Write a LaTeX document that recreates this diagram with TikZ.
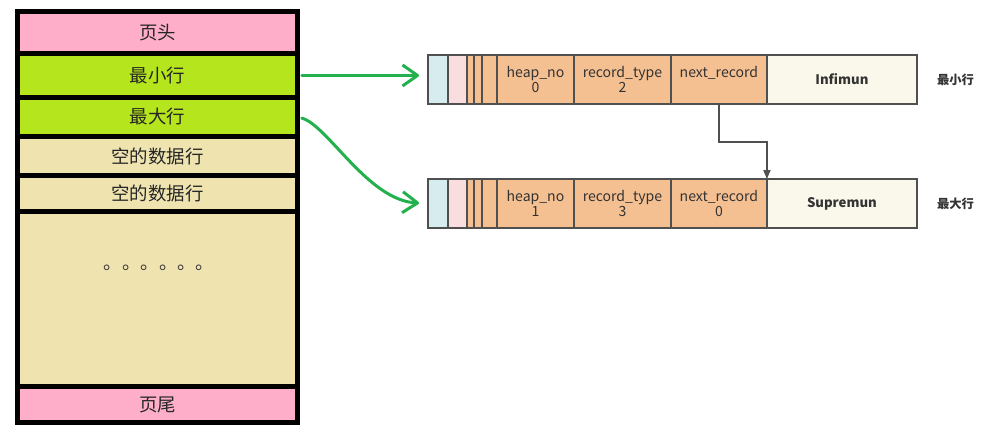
\documentclass[tikz,border=0pt]{standalone}
\usepackage{fontspec}
\setmainfont{Noto Sans CJK SC}
\usetikzlibrary{arrows.meta,positioning}
\definecolor{headpink}{RGB}{255,174,201}
\definecolor{rowgreen}{RGB}{181,230,29}
\definecolor{rowtan}{RGB}{239,228,176}
\definecolor{pengreen}{RGB}{34,177,76}
\definecolor{recblue}{RGB}{214,236,238}
\definecolor{recpink}{RGB}{250,221,222}
\definecolor{recorange}{RGB}{245,192,145}
\definecolor{reccream}{RGB}{250,248,234}
\definecolor{recline}{RGB}{80,80,80}

\begin{document}
\begin{tikzpicture}[
  x=0.02cm, y=-0.02cm,
  pagecell/.style={rectangle, draw=black, line width=0.1cm, outer sep=0pt,
    inner sep=0pt, minimum width=5.6cm, text=black!85,
    font=\fontsize{10.5}{12}\selectfont},
  reccell/.style={rectangle, draw=recline, line width=0.7pt, outer sep=0pt,
    inner sep=0pt, minimum height=0.98cm, fill=recorange, align=center,
    text=black!80, font=\fontsize{8}{8.5}\selectfont},
  sidelabel/.style={font=\fontsize{7}{8}\selectfont\bfseries, text=black!80},
  penarrow/.style={draw=pengreen, line width=0.06cm, line cap=round,
    -{Straight Barb[length=0.3cm,width=0.42cm,line join=round]},
    shorten <=0.09cm, shorten >=0.18cm},
  nextlink/.style={draw=recline, line width=0.7pt,
    -{Triangle[length=5pt,width=4pt]}},
]
  \useasboundingbox (0,0) rectangle (981,445);

  % page layout
  \node[pagecell, fill=headpink, minimum height=0.84cm, anchor=north] (head) at (157.5,11.5) {页头};
  \node[pagecell, fill=rowgreen, minimum height=0.88cm, below=0pt of head] (minrow) {最小行};
  \node[pagecell, fill=rowgreen, minimum height=0.78cm, below=0pt of minrow] (maxrow) {最大行};
  \node[pagecell, fill=rowtan, minimum height=0.78cm, below=0pt of maxrow] (empty1) {空的数据行};
  \node[pagecell, fill=rowtan, minimum height=0.72cm, below=0pt of empty1] (empty2) {空的数据行};
  \node[pagecell, fill=rowtan, minimum height=3.5cm, below=0pt of empty2] (free) {};
  \node[pagecell, fill=headpink, minimum height=0.73cm, below=0pt of free] (tail) {页尾};
  \node[font=\fontsize{10.5}{12}\selectfont, text=black!80] (dots) at (159,268) {。。。。。。};

  % infimum record
  \node[reccell, fill=recblue, minimum width=0.4cm, anchor=west] (ptr1) at (428,79.5) {};
  \node[reccell, fill=recpink, minimum width=0.38cm, right=0pt of ptr1] (pk1) {};
  \node[reccell, minimum width=0.14cm, right=0pt of pk1] (fa1) {};
  \node[reccell, minimum width=0.16cm, right=0pt of fa1] (fb1) {};
  \node[reccell, minimum width=0.3cm, right=0pt of fb1] (fc1) {};
  \node[reccell, minimum width=1.54cm, right=0pt of fc1] (heap1) {heap\_no\\0};
  \node[reccell, minimum width=1.94cm, right=0pt of heap1] (type1) {record\_type\\2};
  \node[reccell, minimum width=1.92cm, right=0pt of type1] (next1) {next\_record\\~};
  \node[reccell, fill=reccream, minimum width=3cm, right=0pt of next1,
    font=\fontsize{7.5}{9}\selectfont\bfseries] (inf) {Infimun};
  \node[sidelabel, right=0.28cm of inf] (minlab) {最小行};

  % supremum record
  \node[reccell, fill=recblue, minimum width=0.4cm, anchor=west] (ptr2) at (428,203.5) {};
  \node[reccell, fill=recpink, minimum width=0.38cm, right=0pt of ptr2] (pk2) {};
  \node[reccell, minimum width=0.14cm, right=0pt of pk2] (fa2) {};
  \node[reccell, minimum width=0.16cm, right=0pt of fa2] (fb2) {};
  \node[reccell, minimum width=0.3cm, right=0pt of fb2] (fc2) {};
  \node[reccell, minimum width=1.54cm, right=0pt of fc2] (heap2) {heap\_no\\1};
  \node[reccell, minimum width=1.94cm, right=0pt of heap2] (type2) {record\_type\\3};
  \node[reccell, minimum width=1.92cm, right=0pt of type2] (next2) {next\_record\\0};
  \node[reccell, fill=reccream, minimum width=3cm, right=0pt of next2,
    font=\fontsize{7.5}{9}\selectfont\bfseries] (sup) {Supremun};
  \node[sidelabel, right=0.28cm of sup] (maxlab) {最大行};

  \draw[nextlink] (next1.south) -- ++(0,38) -| (sup.north west);
  \draw[penarrow] (minrow.east) -- (minrow.east -| ptr1.west);
  \draw[penarrow] (maxrow.east) .. controls +(30,8) and +(-60,-3) .. (ptr2.west);
\end{tikzpicture}
\end{document}
